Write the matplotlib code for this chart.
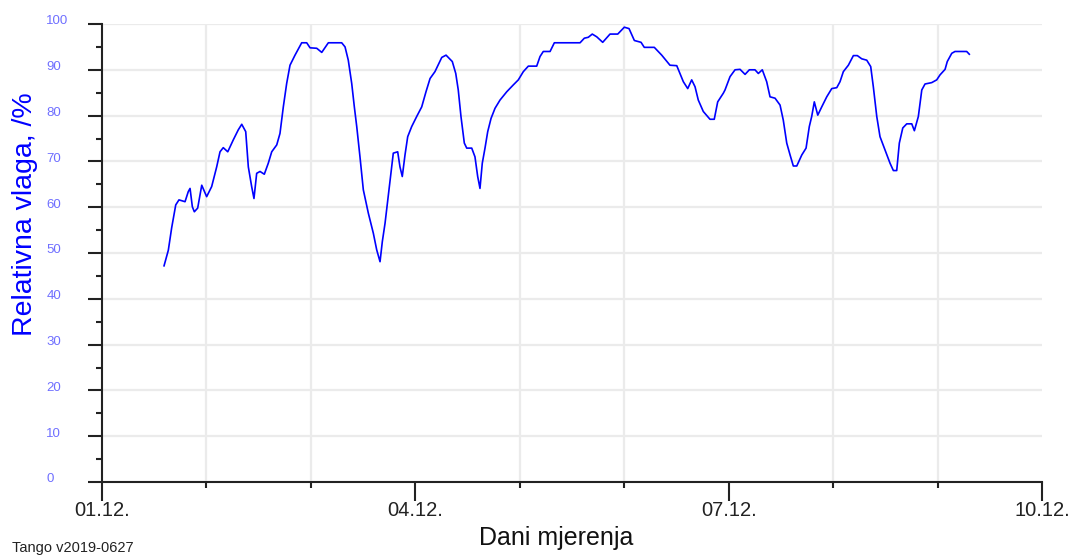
import matplotlib
matplotlib.use("Agg")
import matplotlib.pyplot as plt
from matplotlib.ticker import FixedLocator, MultipleLocator
from matplotlib.transforms import ScaledTranslation

# ── Data: days since 01.12. 00:00 and relative humidity (%) ─────────────
days = [
    0.594, 0.635, 0.667, 0.706, 0.737, 0.795, 0.826, 0.843, 0.865, 0.884,
    0.916, 0.955, 1.002, 1.050, 1.098, 1.130, 1.161, 1.204, 1.257, 1.305,
    1.338, 1.376, 1.401, 1.433, 1.455, 1.481, 1.513, 1.554, 1.592, 1.625,
    1.673, 1.704, 1.736, 1.768, 1.800, 1.848, 1.912, 1.960, 1.992, 2.056,
    2.104, 2.167, 2.295, 2.327, 2.358, 2.391, 2.416, 2.439, 2.470, 2.502,
    2.550, 2.598, 2.630, 2.662, 2.684, 2.710, 2.736, 2.758, 2.789, 2.831,
    2.853, 2.875, 2.901, 2.927, 2.965, 3.013, 3.061, 3.102, 3.141, 3.188,
    3.253, 3.294, 3.354, 3.387, 3.411, 3.437, 3.469, 3.492, 3.540, 3.571,
    3.597, 3.619, 3.641, 3.667, 3.693, 3.725, 3.763, 3.811, 3.875, 3.938,
    3.986, 4.034, 4.082, 4.162, 4.194, 4.225, 4.290, 4.331, 4.577, 4.618,
    4.656, 4.694, 4.737, 4.794, 4.864, 4.938, 5.001, 5.046, 5.097, 5.161,
    5.192, 5.288, 5.359, 5.438, 5.503, 5.566, 5.608, 5.646, 5.678, 5.709,
    5.757, 5.821, 5.862, 5.895, 5.949, 5.965, 6.013, 6.061, 6.109, 6.157,
    6.198, 6.252, 6.284, 6.322, 6.364, 6.396, 6.444, 6.492, 6.523, 6.556,
    6.588, 6.619, 6.652, 6.700, 6.741, 6.772, 6.795, 6.820, 6.853, 6.891,
    6.939, 6.987, 7.035, 7.066, 7.098, 7.146, 7.194, 7.232, 7.274, 7.322,
    7.360, 7.385, 7.418, 7.449, 7.497, 7.545, 7.577, 7.609, 7.634, 7.667,
    7.705, 7.753, 7.778, 7.816, 7.849, 7.880, 7.944, 7.992, 8.024, 8.072,
    8.093, 8.136, 8.167, 8.279, 8.304,
]
humidity = [
    47.2, 50.6, 55.5, 60.5, 61.6, 61.2, 63.4, 64.1, 60.1, 59.0,
    59.8, 64.8, 62.3, 64.5, 68.8, 72.1, 73.0, 72.1, 74.7, 76.9,
    78.1, 76.5, 68.8, 64.5, 61.9, 67.4, 67.8, 67.2, 69.6, 72.1,
    73.6, 76.1, 81.9, 87.0, 91.0, 93.2, 95.9, 95.9, 94.8, 94.7,
    93.8, 95.9, 95.9, 95.0, 92.1, 87.0, 81.9, 77.6, 71.0, 63.8,
    58.7, 54.3, 50.7, 48.1, 52.5, 56.5, 61.6, 65.9, 71.8, 72.1,
    68.8, 66.7, 71.4, 75.4, 77.6, 79.8, 81.9, 85.2, 88.1, 89.6,
    92.7, 93.2, 91.8, 89.2, 85.6, 79.8, 74.0, 72.9, 72.9, 71.0,
    66.7, 64.1, 69.6, 72.9, 76.5, 79.4, 81.6, 83.4, 85.2, 86.7,
    87.8, 89.6, 90.8, 90.8, 92.9, 94.0, 94.0, 95.9, 95.9, 96.9,
    97.1, 97.8, 97.2, 96.0, 97.8, 97.8, 99.3, 99.0, 96.4, 96.0,
    94.9, 94.9, 93.2, 91.0, 90.9, 87.4, 85.9, 87.8, 86.3, 83.4,
    80.9, 79.2, 79.2, 83.0, 84.9, 85.6, 88.5, 90.0, 90.1, 89.0,
    90.0, 90.0, 89.2, 90.0, 87.4, 84.1, 83.8, 82.3, 79.0, 74.0,
    71.4, 69.0, 69.0, 71.4, 72.9, 77.6, 79.8, 83.0, 80.1, 81.9,
    84.1, 85.9, 86.1, 87.4, 89.6, 91.0, 93.1, 93.1, 92.4, 92.1,
    90.7, 86.3, 79.8, 75.4, 72.5, 69.6, 68.0, 68.0, 74.0, 77.3,
    78.2, 78.2, 76.7, 79.8, 85.6, 86.9, 87.2, 87.8, 88.9, 90.1,
    91.8, 93.6, 94.0, 94.0, 93.4,
]

major_days = [0, 3, 6, 9]
major_labels = ["01.12.", "04.12.", "07.12.", "10.12."]
all_days = list(range(0, 10))

plt.rcParams["font.family"] = ["Liberation Sans", "DejaVu Sans"]

fig = plt.figure(figsize=(10.77, 5.58), dpi=100)
ax = fig.add_axes([102 / 1077, 76 / 558, 940 / 1077, 458 / 558])

ax.plot(days, humidity, color="#0000ff", lw=1.2, zorder=3)

ax.set_xlim(0, 9)
ax.set_ylim(0, 100)

# grid
ax.xaxis.set_major_locator(FixedLocator(major_days))
ax.xaxis.set_minor_locator(FixedLocator(all_days))
ax.set_xticklabels(major_labels)
ax.yaxis.set_major_locator(MultipleLocator(10))
ax.yaxis.set_minor_locator(MultipleLocator(5))
ax.grid(True, which="minor", axis="x", color="#ebebeb", lw=1.6, zorder=0)
ax.grid(True, which="major", axis="y", color="#ebebeb", lw=1.6, zorder=0)

for side in ("top", "right"):
    ax.spines[side].set_visible(False)
for side in ("left", "bottom"):
    ax.spines[side].set_linewidth(1.5)
    ax.spines[side].set_color("#222222")

ax.tick_params(axis="x", which="major", length=14, width=1.5, pad=0,
               labelsize=14.5, labelcolor="#222222", color="#222222")
ax.tick_params(axis="x", which="minor", length=4, width=1.5, color="#222222")
ax.tick_params(axis="y", which="major", length=10, width=1.5, pad=30,
               labelsize=9.5, labelcolor="#6f6fff", color="#222222")
ax.tick_params(axis="y", which="minor", length=4, width=1.5, color="#222222")

for lbl in ax.get_yticklabels():
    lbl.set_horizontalalignment("left")
    lbl.set_transform(lbl.get_transform() + ScaledTranslation(0, 3 / 72, fig.dpi_scale_trans))

ax.set_xlabel("Dani mjerenja", fontsize=18, color="#111111")
ax.xaxis.set_label_coords(0.483, -0.095)
ax.set_ylabel("Relativna vlaga, /%", fontsize=20.5, color="#0000ff")
ax.yaxis.set_label_coords(-0.068, 0.585)

fig.text(12 / 1077, 3 / 558, "Tango v2019-0627", fontsize=10.5, color="#222222",
         ha="left", va="bottom")

fig.savefig("out.png", dpi=100, facecolor="white")
